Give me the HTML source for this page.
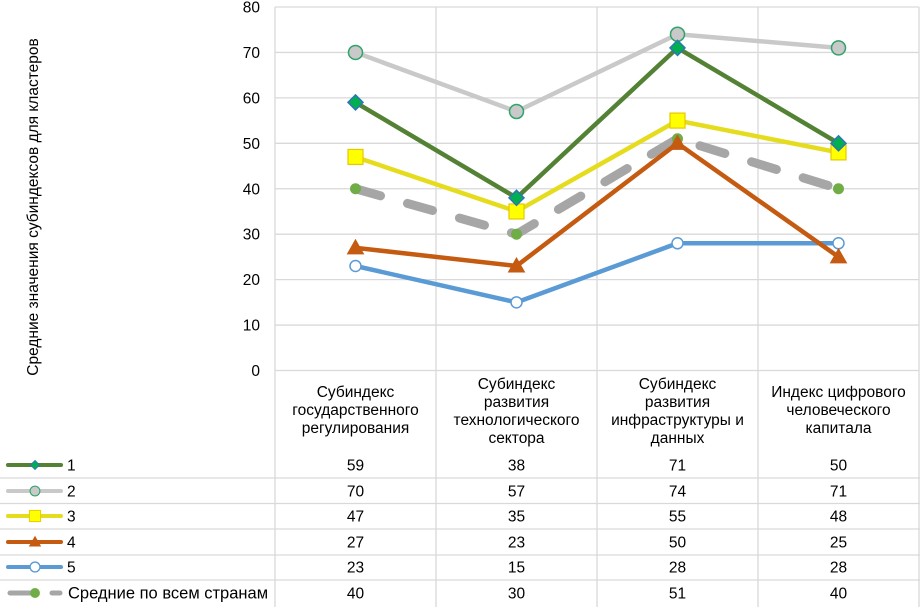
<!DOCTYPE html>
<html><head><meta charset="utf-8"><style>
html,body{margin:0;padding:0;background:#fff;}
svg{display:block;font-family:"Liberation Sans",Arial,sans-serif;}
</style></head><body>
<svg id="c" width="920" height="607" viewBox="0 0 920 607" xmlns="http://www.w3.org/2000/svg">
<g id="grid"></g><g id="series"></g><g id="table"></g>
<text transform="translate(38,207) rotate(-90)" text-anchor="middle" font-size="15.5" fill="#000">Средние значения субиндексов для кластеров</text>
</svg>
<script>
const categories=[["Субиндекс","государственного","регулирования"],["Субиндекс","развития","технологического","сектора"],["Субиндекс","развития","инфраструктуры  и","данных"],["Индекс цифрового","человеческого","капитала"]];
const seriesNames=["1","2","3","4","5","Средние  по всем  странам"];
const s1=[59,38,71,50];
const s2=[70,57,74,71];
const s3=[47,35,55,48];
const s4=[27,23,50,25];
const s5=[23,15,28,28];
const sAvg=[40,30,51,40];
const yTicks=[0,10,20,30,40,50,60,70,80];
const NS="http://www.w3.org/2000/svg";
const L=275,R=919,T=7,B=370.5,colW=(R-L)/4;
const FS=15.5;
const y=v=>B-(B-T)*v/80;
const x=i=>L+colW*(i+0.5);
function mk(tag,attrs,parent){const e=document.createElementNS(NS,tag);for(const k in attrs)e.setAttribute(k,attrs[k]);parent.appendChild(e);return e;}
const grid=document.getElementById('grid'),ser=document.getElementById('series'),tab=document.getElementById('table');
yTicks.forEach(t=>{
 const l=mk('line',{x1:L,x2:R,y1:y(t),y2:y(t),stroke:'#d9d9d9','stroke-width':1.3},grid);
 
 
 const tx=mk('text',{x:260,y:y(t)+5.5,'text-anchor':'end','font-size':FS,fill:'#000'},grid);
 tx.textContent=t;
 
 
});
for(let i=0;i<=4;i++){
 const xx=L+colW*i;
 const l=mk('line',{x1:xx,x2:xx,y1:T,y2:607,stroke:'#d9d9d9','stroke-width':1.3},grid);
 
 
}
const rowCenters=[465,491,516,542,567,593];
[478,503.5,529,555,580].forEach(yy=>{
 const l=mk('line',{x1:0,x2:920,y1:yy,y2:yy,stroke:'#d9d9d9','stroke-width':1.3},tab);
 
 
});
categories.forEach((c,i)=>{
 const n=c.length,startY=n===4?389:397;
 c.forEach((s,j)=>{
  const t=mk('text',{x:x(i),y:startY+j*18,'text-anchor':'middle','font-size':FS,fill:'#000','xml:space':'preserve'},tab);
  t.textContent=s;
  
  
 });
});
const styles=[
 {data:s1,color:'#548235',w:4.5,marker:'diamond',mf:'#00b050',ms:'#2e75b6'},
 {data:s2,color:'#c9c9c9',w:4.5,marker:'circle',mf:'#c9c9c9',ms:'#2ea36a'},
 {data:s3,color:'#e6dc1e',w:4.5,marker:'square',mf:'#ffff00',ms:'#e6c800'},
 {data:s4,color:'#c55a11',w:4.5,marker:'triangle',mf:'#c55a11',ms:'#c55a11'},
 {data:s5,color:'#5b9bd5',w:4.5,marker:'ocircle',mf:'#ffffff',ms:'#5b9bd5'},
 {data:sAvg,color:'#a6a6a6',w:9,dash:'26 28',marker:'dot',mf:'#70ad47',ms:'#70ad47'}
];
function marker(kind,cx,cy,f,s,p){
 let e;
 if(kind==='diamond')e=mk('polygon',{points:`${cx},${cy-7.5} ${cx+7.5},${cy} ${cx},${cy+7.5} ${cx-7.5},${cy}`,fill:f,stroke:s,'stroke-width':1.5},p);
 else if(kind==='circle')e=mk('circle',{cx,cy,r:7,fill:f,stroke:s,'stroke-width':1.5},p);
 else if(kind==='square')e=mk('rect',{x:cx-7.5,y:cy-7.5,width:15,height:15,fill:f,stroke:s,'stroke-width':1.2},p);
 else if(kind==='triangle')e=mk('polygon',{points:`${cx},${cy-8} ${cx+8},${cy+6} ${cx-8},${cy+6}`,fill:f,stroke:s,'stroke-width':1},p);
 else if(kind==='ocircle')e=mk('circle',{cx,cy,r:5.5,fill:f,stroke:s,'stroke-width':1.5},p);
 else e=mk('circle',{cx,cy,r:5.5,fill:f},p);
 return e;
}
[5,4,3,2,1,0].forEach(k=>{
 const st=styles[k];
 const g=mk('g',{},ser);
 
 
 const pts=st.data.map((v,i)=>x(i)+','+y(v)).join(' ');
 const pl=mk('polyline',{points:pts,fill:'none',stroke:st.color,'stroke-width':st.w,'stroke-linecap':'round','stroke-linejoin':'round'},g);
 if(st.dash)pl.setAttribute('stroke-dasharray',st.dash);
 
 
 st.data.forEach((v,i)=>{
  const m=marker(st.marker,x(i),y(v),st.mf,st.ms,g);
  
  
 });
 const ry=rowCenters[k];
 const lg=mk('g',{},tab);
 
 
 if(st.dash){
  mk('line',{x1:10,x2:30,y1:ry,y2:ry,stroke:st.color,'stroke-width':5,'stroke-linecap':'round'},lg);
  mk('line',{x1:52,x2:60,y1:ry,y2:ry,stroke:st.color,'stroke-width':5,'stroke-linecap':'round'},lg);
 }else{
  mk('line',{x1:8,x2:61,y1:ry,y2:ry,stroke:st.color,'stroke-width':4,'stroke-linecap':'round'},lg);
 }
 const sc={diamond:0.6,circle:0.7,square:0.75,triangle:0.7,ocircle:0.9,dot:0.9};
 const mm=marker(st.marker,0,0,st.mf,st.ms,lg);
 mm.setAttribute('transform',`translate(35,${ry}) scale(${sc[st.marker]})`);
 const lt=mk('text',{x:st.dash?68:67,y:ry+5.5,'font-size':k===5?16.5:FS,fill:'#000','xml:space':'preserve'},lg);
 lt.textContent=seriesNames[k];
 st.data.forEach((v,i)=>{
  const t=mk('text',{x:x(i),y:ry+5.5,'text-anchor':'middle','font-size':FS,fill:'#000'},tab);
  t.textContent=v;
  
  
 });
});
</script>
</body></html>
